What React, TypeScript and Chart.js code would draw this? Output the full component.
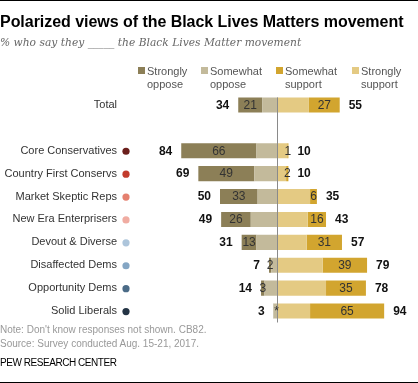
import { useEffect, useRef } from 'react';
import { Chart, registerables } from 'chart.js';
Chart.register(...registerables);

const categories = [
  'Total',
  '',
  'Core Conservatives',
  'Country First Conservs',
  'Market Skeptic Reps',
  'New Era Enterprisers',
  'Devout & Diverse',
  'Disaffected Dems',
  'Opportunity Dems',
  'Solid Liberals',
];
const stronglyOppose = [21, null, 66, 49, 33, 26, 13, 2, 3, 0.3];
const somewhatOppose = [13, null, 18, 20, 17, 23, 18, 5, 11, 3];
const somewhatSupport = [28, null, 9, 8, 29, 27, 26, 40, 43, 29];
const stronglySupport = [27, null, 1, 2, 6, 16, 31, 39, 35, 65];
const netOppose = [34, null, 84, 69, 50, 49, 31, 7, 14, 3];
const netSupport = [55, null, 10, 10, 35, 43, 57, 79, 78, 94];
const stronglyOpposeLabels = ['21', '', '66', '49', '33', '26', '13', '2', '3', '*'];
const stronglySupportLabels = ['27', '', '1', '2', '6', '16', '31', '39', '35', '65'];
const dotColors = [null, null, '#6b1f1c', '#c23b2c', '#e5806f', '#f0aca2', '#adc5db', '#84a6c4', '#4b6b87', '#243445'];

const legendItems = [
  { lines: ['Strongly', 'oppose'], color: '#8c7f57' },
  { lines: ['Somewhat', 'oppose'], color: '#c3ba9b' },
  { lines: ['Somewhat', 'support'], color: '#d2a52f' },
  { lines: ['Strongly', 'support'], color: '#e4ca83' },
];

const C_SO = '#8c7f57';
const C_WO = '#c3ba9b';
const C_WS = '#e4ca83';
const C_SS = '#d2a52f';
const FONT = '"Liberation Sans", Arial, sans-serif';

const neg = (v: number | null) => (v == null ? null : -v);

const overlay = {
  id: 'overlay',
  afterDatasetsDraw(chart: any) {
    const { ctx, chartArea, scales } = chart;
    const x = scales.x;
    const y = scales.y;
    ctx.save();
    // center line
    const x0 = Math.round(x.getPixelForValue(0)) + 0.5;
    const topBar = chart.getDatasetMeta(0).data[0];
    const top = topBar.y - topBar.height / 2;
    ctx.strokeStyle = '#8a8a8a';
    ctx.lineWidth = 1;
    ctx.beginPath();
    ctx.moveTo(x0, top);
    ctx.lineTo(x0, chartArea.bottom);
    ctx.stroke();

    ctx.textBaseline = 'middle';
    categories.forEach((_c, i) => {
      const no = netOppose[i];
      const ns = netSupport[i];
      if (no == null || ns == null) return;
      const yc = y.getPixelForValue(i) + 0.5;
      const so = chart.getDatasetMeta(1).data[i];
      const ss = chart.getDatasetMeta(3).data[i];
      ctx.font = '12px ' + FONT;
      ctx.fillStyle = '#333';
      ctx.textAlign = 'center';
      const soX = stronglyOpposeLabels[i] === '*' ? x0 - 1 : (so.x + so.base) / 2;
      ctx.fillText(stronglyOpposeLabels[i], soX, yc);
      ctx.fillText(stronglySupportLabels[i], (ss.x + ss.base) / 2, yc);
      ctx.font = 'bold 12px ' + FONT;
      ctx.fillStyle = '#111';
      ctx.textAlign = 'right';
      ctx.fillText(String(no), x.getPixelForValue(-no) - 9, yc);
      ctx.textAlign = 'left';
      ctx.fillText(String(ns), x.getPixelForValue(ns) + 9, yc);
      const dc = dotColors[i];
      if (dc) {
        ctx.fillStyle = dc;
        ctx.beginPath();
        ctx.arc(126, yc, 3.6, 0, Math.PI * 2);
        ctx.fill();
      }
    });

    // legend
    const lx = [138, 201, 276, 352];
    ctx.textBaseline = 'alphabetic';
    ctx.textAlign = 'left';
    ctx.font = '11px ' + FONT;
    legendItems.forEach((it, k) => {
      ctx.fillStyle = it.color;
      ctx.fillRect(lx[k], 67, 7, 7);
      ctx.fillStyle = '#555';
      ctx.fillText(it.lines[0], lx[k] + 9, 74.5);
      ctx.fillText(it.lines[1], lx[k] + 9, 88);
    });
    ctx.restore();
  },
};

export default function App() {
  const ref = useRef<HTMLCanvasElement>(null);
  useEffect(() => {
    const canvas = ref.current!;
    const chart = new Chart(canvas, {
      type: 'bar',
      data: {
        labels: categories,
        datasets: [
          { label: 'Somewhat oppose', data: somewhatOppose.map(neg), backgroundColor: C_WO },
          { label: 'Strongly oppose', data: stronglyOppose.map(neg), backgroundColor: C_SO },
          { label: 'Somewhat support', data: somewhatSupport, backgroundColor: C_WS },
          { label: 'Strongly support', data: stronglySupport, backgroundColor: C_SS },
        ],
      },
      options: {
        indexAxis: 'y',
        responsive: false,
        animation: false,
        layout: { padding: { left: 0, right: 27, top: 93.5, bottom: 60.5 } },
        datasets: { bar: { categoryPercentage: 1, barPercentage: 0.66, borderWidth: 0 } },
        scales: {
          x: { display: false, stacked: true, min: -100, max: 100 },
          y: {
            stacked: true,
            grid: { display: false },
            border: { display: false },
            ticks: { padding: 38, color: '#333', autoSkip: false, font: { family: FONT, size: 11 } },
            afterFit: (s: any) => {
              s.width = 163;
            },
          },
        },
        plugins: { legend: { display: false }, tooltip: { enabled: false } },
      } as any,
      plugins: [overlay],
    });
    return () => chart.destroy();
  }, []);

  const abs = (top: number, extra: any = {}) => ({
    position: 'absolute' as const,
    left: 0,
    top,
    whiteSpace: 'nowrap' as const,
    ...extra,
  });

  return (
    <div style={{ position: 'absolute', left: 0, top: 0, width: 418, height: 383, background: '#fff', overflow: 'hidden' }}>
      <div style={{ position: 'absolute', left: 0, top: 0, width: 418, height: 1, background: '#000' }} />
      <canvas ref={ref} width={418} height={383} style={{ position: 'absolute', left: 0, top: 0 }} />
      <div style={abs(11.5, { font: 'bold 16px ' + FONT, lineHeight: '20px', color: '#000', letterSpacing: '-0.04px' })}>
        Polarized views of the Black Lives Matters movement
      </div>
      <div style={abs(36, { font: 'italic 10.7px "DejaVu Serif", serif', lineHeight: '14px', color: '#666' })}>
        % who say they _____ the Black Lives Matter movement
      </div>
      <div style={abs(322.5, { font: '10px ' + FONT, lineHeight: '14px', color: '#999' })}>
        Note: Don't know responses not shown. CB82.
      </div>
      <div style={abs(336.5, { font: '10px ' + FONT, lineHeight: '14px', color: '#999' })}>
        Source: Survey conducted Aug. 15-21, 2017.
      </div>
      <div style={abs(355.5, { font: '10px ' + FONT, lineHeight: '14px', color: '#000', letterSpacing: '-0.45px' })}>
        PEW RESEARCH CENTER
      </div>
      <div style={{ position: 'absolute', left: 0, top: 382, width: 418, height: 1, background: '#000' }} />
    </div>
  );
}
